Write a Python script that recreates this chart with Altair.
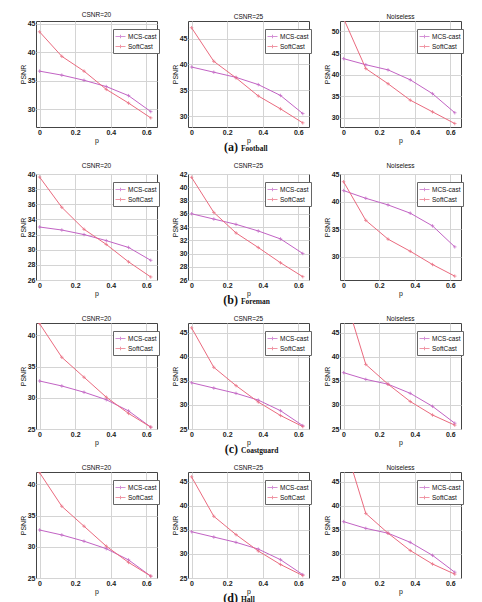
import altair as alt
import pandas as pd

# x positions shared by every panel
p_values = [0, 0.125, 0.25, 0.375, 0.5, 0.625]
series_names = ["MCS-cast", "SoftCast"]
series_colors = ["#c263c4", "#ea6a7e"]

# (a) Football
football_csnr20_mcs = [36.7, 36.0, 35.1, 34.0, 32.4, 29.6]
football_csnr20_soft = [43.6, 39.3, 36.7, 33.5, 31.1, 28.5]
football_csnr25_mcs = [39.5, 38.5, 37.5, 36.1, 34.0, 30.5]
football_csnr25_soft = [47.1, 40.6, 37.4, 33.9, 31.4, 28.7]
football_clean_mcs = [43.7, 42.3, 41.1, 38.8, 35.6, 31.2]
football_clean_soft = [53.0, 41.4, 37.9, 34.1, 31.4, 28.7]

# (b) Foreman
foreman_csnr20_mcs = [33.0, 32.6, 32.0, 31.2, 30.3, 28.6]
foreman_csnr20_soft = [39.6, 35.6, 32.7, 30.7, 28.4, 26.4]
foreman_csnr25_mcs = [36.0, 35.2, 34.4, 33.4, 32.2, 30.0]
foreman_csnr25_soft = [41.5, 36.2, 33.1, 30.9, 28.6, 26.5]
foreman_clean_mcs = [42.0, 40.6, 39.4, 37.9, 35.6, 31.8]
foreman_clean_soft = [43.6, 36.6, 33.2, 31.0, 28.6, 26.5]

# (c) Coastguard
coast_csnr20_mcs = [32.7, 31.9, 30.9, 29.7, 27.9, 25.3]
coast_csnr20_soft = [41.9, 36.5, 33.3, 30.1, 27.5, 25.3]
coast_csnr25_mcs = [34.6, 33.5, 32.4, 31.0, 28.8, 25.7]
coast_csnr25_soft = [46.0, 37.8, 34.0, 30.6, 27.8, 25.5]
coast_clean_mcs = [36.7, 35.3, 34.3, 32.4, 29.7, 26.2]
coast_clean_soft = [53.5, 38.4, 34.3, 30.7, 27.9, 25.8]

# (d) Hall
hall_csnr20_mcs = [32.7, 31.9, 30.9, 29.7, 27.9, 25.3]
hall_csnr20_soft = [41.9, 36.5, 33.3, 30.1, 27.5, 25.3]
hall_csnr25_mcs = [34.6, 33.5, 32.4, 31.0, 28.8, 25.7]
hall_csnr25_soft = [46.0, 37.8, 34.0, 30.6, 27.8, 25.5]
hall_clean_mcs = [36.7, 35.3, 34.3, 32.4, 29.7, 26.2]
hall_clean_soft = [53.5, 38.4, 34.3, 30.7, 27.9, 25.8]

W, H = 121, 106          # plot area of one panel
FONT = "Liberation Sans"
SERIF = "Liberation Serif"
MARKER = "M-1,0L1,0M0,-1L0,1"
LEGEND_SYMBOL = "M-1,0L1,0M0,-0.35L0,0.35M-0.35,0L0.35,0"


def panel(title, mcs, soft, y_domain, y_ticks, caption=None):
    df = pd.DataFrame({
        "p": p_values + p_values,
        "PSNR": mcs + soft,
        "method": [series_names[0]] * len(mcs) + [series_names[1]] * len(soft),
    })
    x = alt.X("p:Q", title="p",
              scale=alt.Scale(domain=[-0.02, 0.66], nice=False, zero=False),
              axis=alt.Axis(values=[0, 0.2, 0.4, 0.6], format="~g",
                            titleColor="#111111"))
    y = alt.Y("PSNR:Q", title="PSNR",
              scale=alt.Scale(domain=y_domain, nice=False, zero=False),
              axis=alt.Axis(values=y_ticks))
    color = alt.Color(
        "method:N",
        scale=alt.Scale(domain=series_names, range=series_colors),
        legend=alt.Legend(
            title=None, orient="none", legendX=W - 44, legendY=8,
            fillColor="white", strokeColor="#666666", padding=2,
            labelFont=FONT, labelFontSize=6.5, labelColor="#111111",
            symbolType=LEGEND_SYMBOL, symbolSize=100, symbolStrokeWidth=1,
            rowPadding=0, labelOffset=2,
        ),
    )
    base = alt.Chart(df)
    lines = base.mark_line(strokeWidth=1, clip=True).encode(x=x, y=y, color=color)
    points = base.mark_point(shape=MARKER, size=12, filled=False, strokeWidth=1,
                             clip=True).encode(x=x, y=y, color=color)
    layers = [lines, points]
    if caption is not None:
        # sub-figure caption, centred under the middle panel
        cap = pd.DataFrame({"tag": [caption[0]], "name": [caption[1]]})
        layers.append(alt.Chart(cap).mark_text(
            font=SERIF, fontSize=12, fontWeight="bold", align="right",
            baseline="alphabetic", color="#111111",
        ).encode(text="tag:N", x=alt.value(50), y=alt.value(H + 24)))
        layers.append(alt.Chart(cap).mark_text(
            font=SERIF, fontSize=7.5, fontWeight="bold", align="left",
            baseline="alphabetic", color="#111111",
        ).encode(text="name:N", x=alt.value(53), y=alt.value(H + 24)))
    return alt.layer(*layers).properties(
        width=W, height=H,
        title=alt.TitleParams(title, font=FONT, fontSize=6.5, fontWeight="normal",
                              color="#111111", offset=1),
    )


def row(caption, specs):
    panels = [
        panel(*spec, caption=caption if i == 1 else None)
        for i, spec in enumerate(specs)
    ]
    return alt.hconcat(*panels, spacing=10).resolve_legend(color="independent")


rows = [
    row(("(a)", "Football"), [
        ("CSNR=20", football_csnr20_mcs, football_csnr20_soft, [26.9, 45.5], [30, 35, 40, 45]),
        ("CSNR=25", football_csnr25_mcs, football_csnr25_soft, [27.9, 48.4], [30, 35, 40, 45]),
        ("Noiseless", football_clean_mcs, football_clean_soft, [27.9, 52.4], [30, 35, 40, 45, 50]),
    ]),
    row(("(b)", "Foreman"), [
        ("CSNR=20", foreman_csnr20_mcs, foreman_csnr20_soft, [26, 40], [26, 28, 30, 32, 34, 36, 38, 40]),
        ("CSNR=25", foreman_csnr25_mcs, foreman_csnr25_soft, [26, 42], [26, 28, 30, 32, 34, 36, 38, 40, 42]),
        ("Noiseless", foreman_clean_mcs, foreman_clean_soft, [25.8, 45], [30, 35, 40, 45]),
    ]),
    row(("(c)", "Coastguard"), [
        ("CSNR=20", coast_csnr20_mcs, coast_csnr20_soft, [25, 42], [25, 30, 35, 40]),
        ("CSNR=25", coast_csnr25_mcs, coast_csnr25_soft, [25, 47], [25, 30, 35, 40, 45]),
        ("Noiseless", coast_clean_mcs, coast_clean_soft, [25, 47], [25, 30, 35, 40, 45]),
    ]),
    row(("(d)", "Hall"), [
        ("CSNR=20", hall_csnr20_mcs, hall_csnr20_soft, [25, 42], [25, 30, 35, 40]),
        ("CSNR=25", hall_csnr25_mcs, hall_csnr25_soft, [25, 47], [25, 30, 35, 40, 45]),
        ("Noiseless", hall_clean_mcs, hall_clean_soft, [25, 47], [25, 30, 35, 40, 45]),
    ]),
]

chart = alt.vconcat(*rows, spacing=8).properties(
    padding={"left": 18, "top": 11, "right": 4, "bottom": 0},
    background="white",
).resolve_legend(color="independent").configure_axis(
    labelFont=FONT, labelFontSize=7, labelFontWeight="bold", labelColor="#1a1a1a",
    labelPadding=1,
    titleFont=FONT, titleFontSize=7, titleFontWeight="normal", titleColor="#111111",
    titlePadding=1, ticks=False, domain=False,
    grid=True, gridColor="#d4d4d4", gridWidth=1,
).configure_view(
    stroke="#444444", strokeWidth=1,
)

chart.save("out.html", embed_options={"renderer": "svg", "actions": False})
